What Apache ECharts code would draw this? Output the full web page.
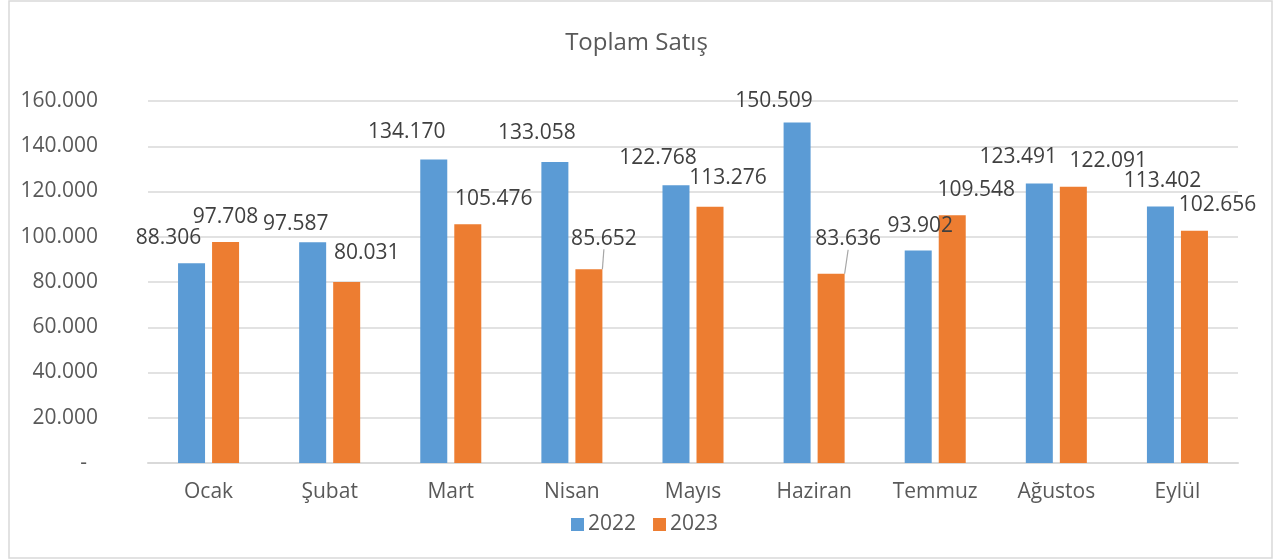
<!DOCTYPE html>
<html>
<head>
<meta charset="utf-8">
<title>Toplam Satış</title>
<script src="https://cdn.jsdelivr.net/npm/echarts@6/dist/echarts.min.js"></script>
<style>
  html, body { margin: 0; padding: 0; background: #fff; }
  #chart { width: 1273px; height: 559px; }
</style>
</head>
<body>
<div id="chart"></div>
<script>
const months = ['Ocak', 'Şubat', 'Mart', 'Nisan', 'Mayıs', 'Haziran', 'Temmuz', 'Ağustos', 'Eylül'];
const sales2022 = [88306, 97587, 134170, 133058, 122768, 150509, 93902, 123491, 113402];
const sales2023 = [97708, 80031, 105476, 85652, 113276, 83636, 109548, 122091, 102656];
const yTicks = [0, 20000, 40000, 60000, 80000, 100000, 120000, 140000, 160000];

// label nudges, like the hand-moved labels in the sheet
const nudges = [
  [[-23, 0], [-17, 7], [-27, -2], [-18, -3], [-18, -2], [-23, 4], [2, 1], [-21, -1], [2, 0]],
  [[0, 1], [20, -3], [26, 0], [15, -5], [18, -3], [17, -9], [24, 0], [35, 0], [23, 0]],
];
const guided = ['Nisan', 'Haziran'];

const fmt = (v) => (v === 0 ? '-  ' : String(v).replace(/\B(?=(\d{3})+(?!\d))/g, '.'));
const font = '"Open Sans", "Noto Sans", sans-serif';

const chart = echarts.init(document.getElementById('chart'));

const makeSeries = (name, values, color, idx) => ({
  name,
  type: 'bar',
  barWidth: 27,
  barGap: '26%',
  itemStyle: { color },
  label: {
    show: true,
    position: 'top',
    distance: 15,
    color: '#404040',
    fontFamily: font,
    fontSize: 21,
    formatter: (p) => fmt(p.value),
  },
  labelLayout: (p) => ({ dx: nudges[idx][p.dataIndex][0], dy: nudges[idx][p.dataIndex][1] }),
  labelLine: { show: false, lineStyle: { color: '#a6a6a6', width: 1.2 } },
  data: values.map((v, i) => (idx === 1 && guided.includes(months[i])
    ? { value: v, labelLine: { show: true, length2: 0 } }
    : v)),
});

chart.setOption({
  animation: false,
  title: {
    text: 'Toplam Satış',
    left: 'center',
    top: 26,
    textStyle: { fontFamily: font, fontSize: 24, fontWeight: 'normal', color: '#595959' },
  },
  legend: {
    data: ['2022', '2023'],
    left: 566,
    top: 509,
    icon: 'rect',
    itemWidth: 13,
    itemHeight: 13,
    itemGap: 17,
    textStyle: { fontFamily: font, fontSize: 21, color: '#595959', padding: [0, 0, 0, -1] },
  },
  grid: { left: 148, right: 35, top: 101, bottom: 96 },
  xAxis: {
    type: 'category',
    data: months,
    axisLine: { lineStyle: { color: '#d9d9d9', width: 2 } },
    axisTick: { show: false },
    axisLabel: { margin: 19, fontFamily: font, fontSize: 21, color: '#595959' },
  },
  yAxis: {
    type: 'value',
    min: yTicks[0],
    max: yTicks[yTicks.length - 1],
    interval: yTicks[1] - yTicks[0],
    axisLine: { show: false },
    axisTick: { show: false },
    splitLine: { lineStyle: { color: '#d9d9d9', width: 1.5 } },
    axisLabel: { margin: 50, fontFamily: font, fontSize: 21, color: '#595959', formatter: fmt },
  },
  graphic: [{
    type: 'rect',
    shape: { x: 9, y: 1, width: 1263, height: 557 },
    style: { fill: 'none', stroke: '#d9d9d9', lineWidth: 1.5 },
    silent: true,
  }],
  series: [
    makeSeries('2022', sales2022, '#5b9bd5', 0),
    makeSeries('2023', sales2023, '#ed7d31', 1),
  ],
});
</script>
</body>
</html>
